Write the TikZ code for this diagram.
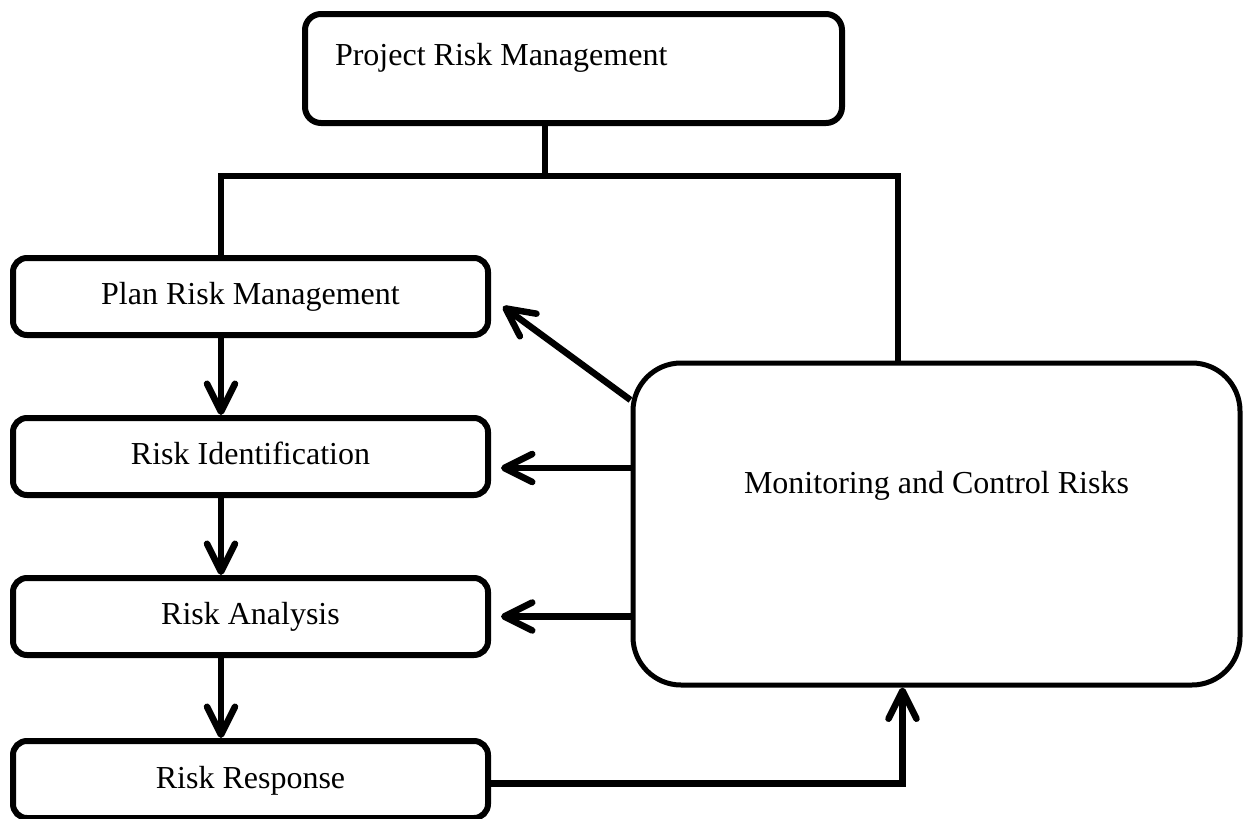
\documentclass[tikz,border=0pt]{standalone}
\usepackage{fontspec}
\setmainfont{Liberation Serif}
\usepackage{tikz}
\usetikzlibrary{arrows.meta,calc}
\usetikzlibrary{positioning}
\tikzstyle{box_style}=[draw, line width=3pt, rounded corners=7pt,
anchor=center, text centered, font=\fontsize{16}{19}\selectfont]
\tikzstyle{diagram0}=[box_style, minimum width=237.5pt, minimum height=38.5pt, inner sep=0pt, text height=11pt, text depth=3.5pt]
\tikzstyle{myarrow}=[-{Straight Barb[length=14pt,width=14pt,round]}, line width=3.25pt]
\tikzstyle{bus_line}=[line width=3.25pt]

\begin{document}
\begin{tikzpicture}[x=0.5pt, y=-0.5pt, node distance=38.5pt]
	\useasboundingbox (0,0) rectangle (1244,819);

	\node[box_style, rounded corners=8pt, minimum width=268.5pt, minimum height=54.5pt, inner xsep=15pt, inner ysep=0pt,
		text width=238.5pt, align=flush left, text height=11pt, text depth=14.5pt] (A) at (573.5,68.5) {Project Risk Management} ;

	\node[diagram0] (B) at (250.5,296.5) {Plan Risk Management} ;
	\node[diagram0, below=of B] (C) {Risk Identification} ;
	\node[diagram0, below=of C] (D) {Risk Analysis} ;
	\node[diagram0, below=40pt of D, text depth=2pt] (E) {Risk Response} ;

	\node[box_style, line width=2.5pt, rounded corners=24pt, minimum width=303.5pt, minimum height=161pt,
		text height=11pt, text depth=42pt] (F) at (936.5,524) {Monitoring and Control Risks} ;

	% branch from the top box
	\coordinate (bus) at (545,176) ;
	\coordinate (busL) at (221,176) ;
	\coordinate (busR) at (898,176) ;
	\draw[bus_line] (bus |- A.south) -- (bus) ;
	\draw[bus_line] (busL |- B.north) -- (busL) -- (busR) -- (busR |- F.north) ;

	\draw[myarrow] (busL |- B.south) -- (busL |- C.north) ;
	\draw[myarrow] (busL |- C.south) -- (busL |- D.north) ;
	\draw[myarrow] (busL |- D.south) -- (busL |- E.north) ;

	% feedback from monitoring
	\draw[myarrow] (F.west |- 0,400) -- ($(B.east)+(12,10)$) ;
	\draw[myarrow, shorten >=5pt] (F.west |- 0,468) -- (C.east |- 0,468) ;
	\draw[myarrow, shorten >=5pt] (F.west |- D.east) -- (D.east) ;

	\draw[myarrow] ($(E.east)+(0,4)$) -| ([xshift=-17pt]F.south) ;
\end{tikzpicture}
\end{document}
